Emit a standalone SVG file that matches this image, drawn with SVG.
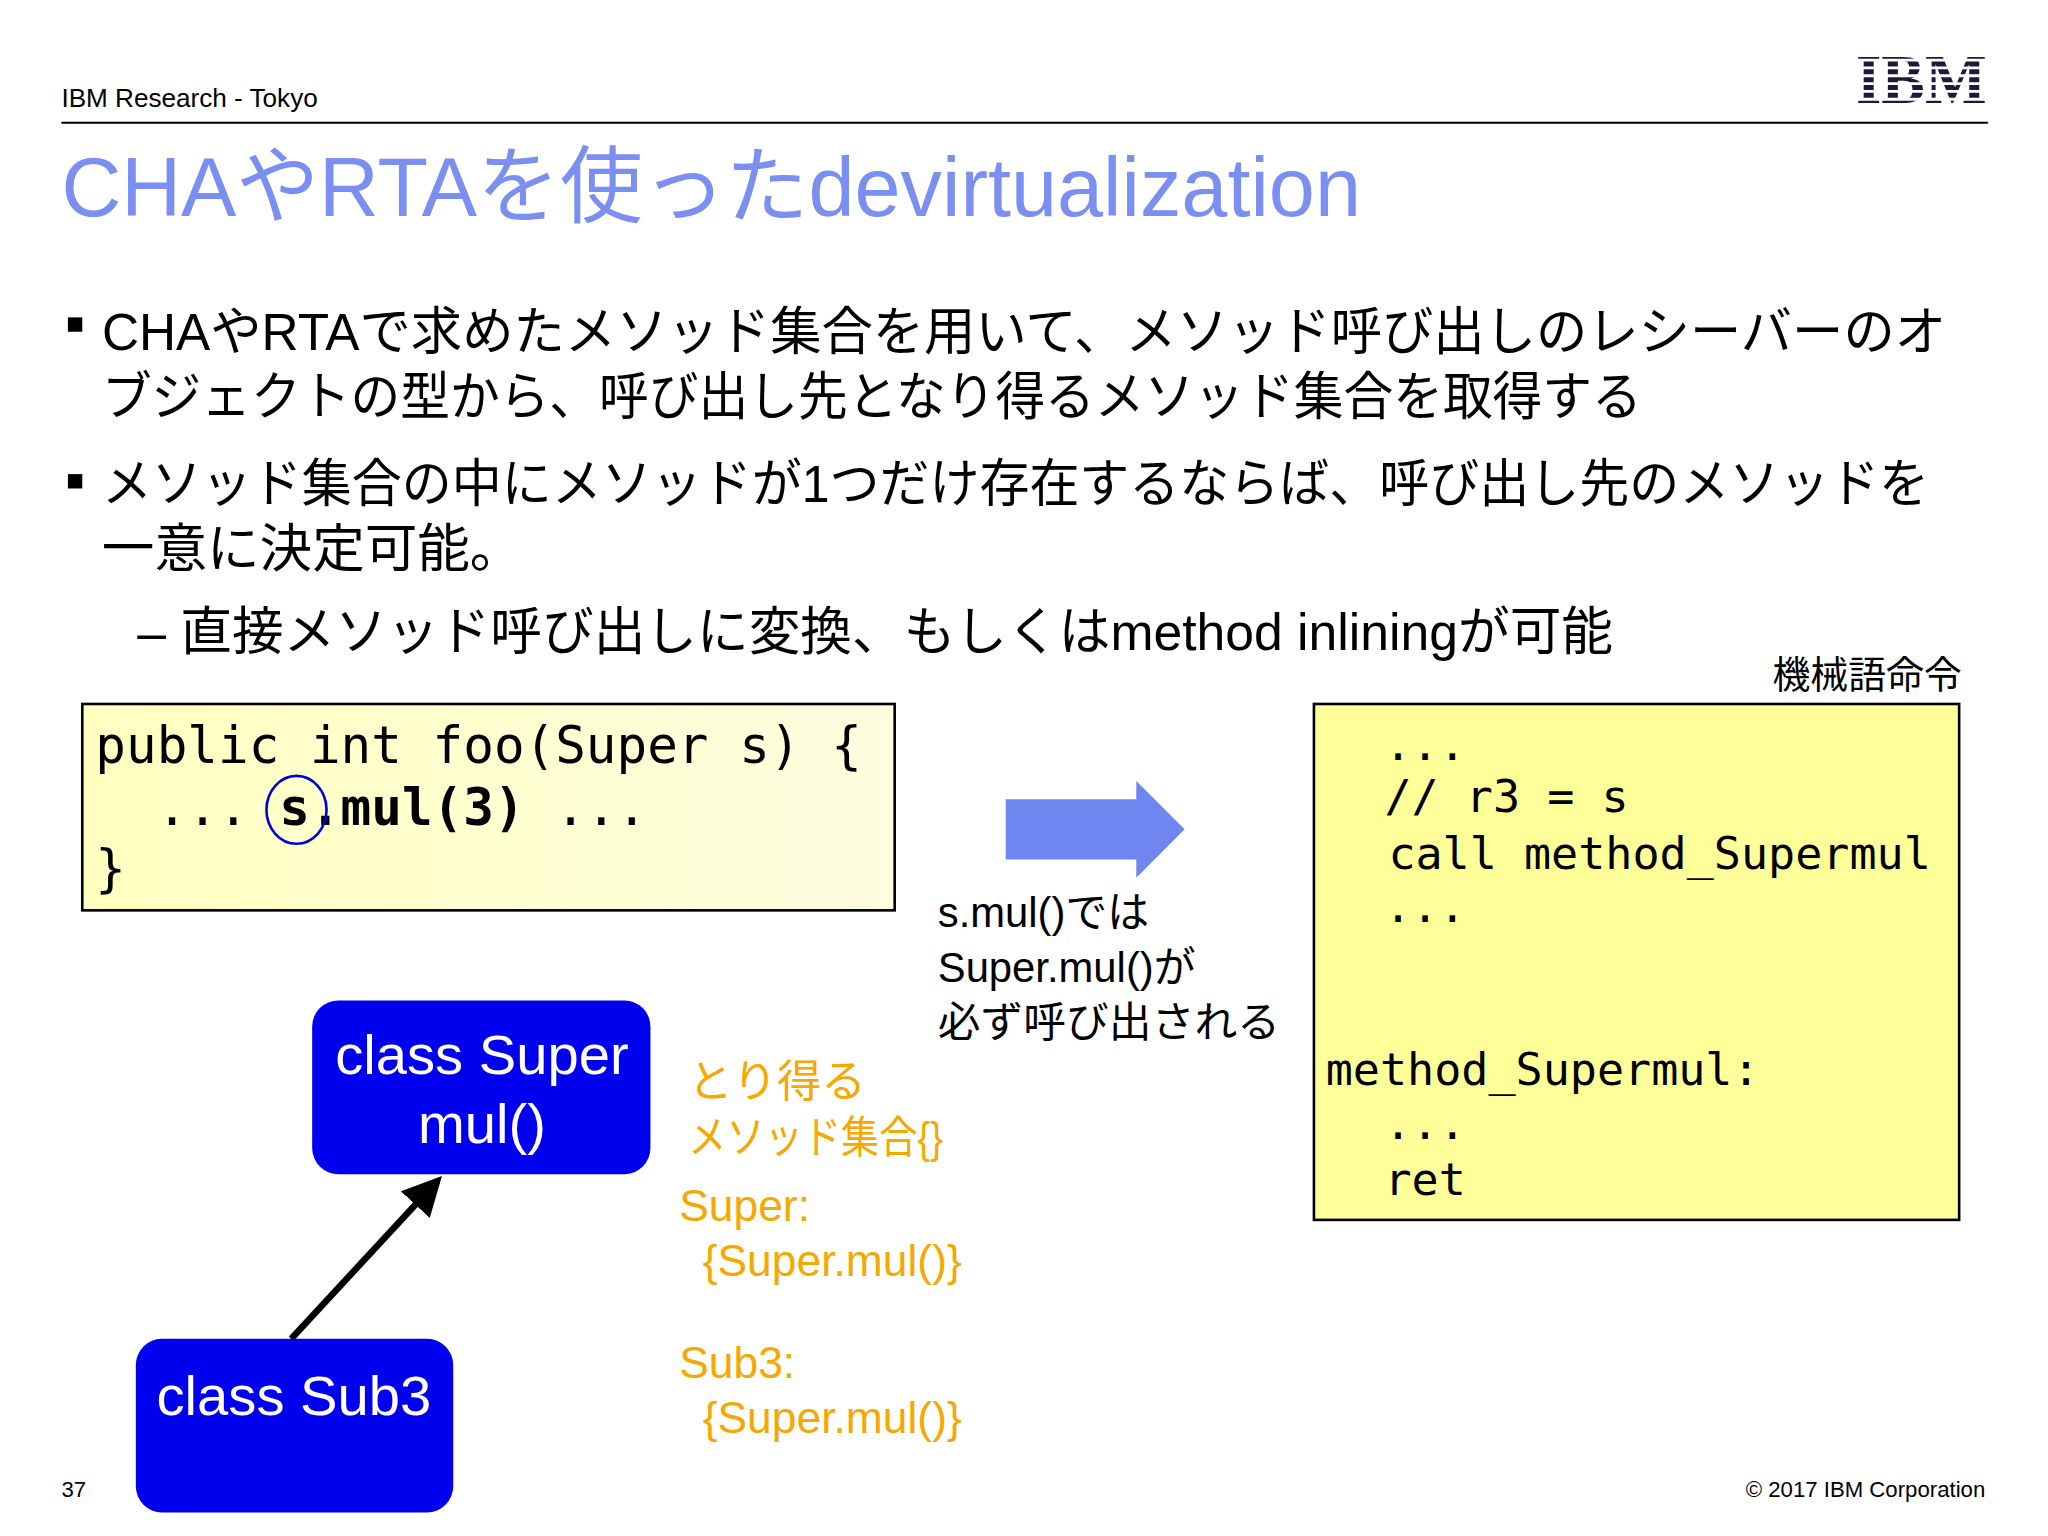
<svg xmlns="http://www.w3.org/2000/svg" width="2048" height="1536" viewBox="0 0 2048 1536">
<style>
.s{font-family:"Liberation Sans","Noto Sans CJK JP",sans-serif}
.m{font-family:"DejaVu Sans Mono","Noto Sans CJK JP",monospace}
.b{font-size:40px;fill:#000}
.o{font-size:34px;fill:#f5a800}
.w{font-size:43px;fill:#fff}
</style>
<defs>
<linearGradient id="gy" x1="0" x2="1"><stop offset="0" stop-color="#ffffc0"/><stop offset="1" stop-color="#fefee0"/></linearGradient>
<marker id="ah" markerWidth="6" markerHeight="6" refX="5" refY="3" orient="auto" markerUnits="strokeWidth"><path d="M0,0 L6,3 L0,6 z" fill="#000"/></marker>
</defs>
<rect width="2048" height="1536" fill="#fff"/>
<g transform="scale(1.3061)">
<text class="s" x="47" y="82" font-size="20">IBM Research - Tokyo</text>
<g id="logo">
<text x="1471" y="79" text-anchor="middle" font-family="Liberation Serif,serif" font-weight="bold" font-size="54" fill="#1a1a3a" textLength="100" lengthAdjust="spacingAndGlyphs">IBM</text>
<g stroke="#fff" stroke-width="2.2"><line x1="1415" x2="1525" y1="46"  y2="46"/><line x1="1415" x2="1525" y1="52" y2="52"/><line x1="1415" x2="1525" y1="58" y2="58"/><line x1="1415" x2="1525" y1="64" y2="64"/><line x1="1415" x2="1525" y1="70" y2="70"/><line x1="1415" x2="1525" y1="76" y2="76"/></g>
</g>
<line x1="47" y1="94" x2="1522" y2="94" stroke="#000" stroke-width="1.5"/>
<text class="s" x="47" y="165" font-size="64" fill="#7b8ef2" textLength="995" lengthAdjust="spacingAndGlyphs">CHAやRTAを使ったdevirtualization</text>
<g class="s b">
<rect x="52" y="243" width="11" height="11"/>
<text x="78" y="268" textLength="1412" lengthAdjust="spacingAndGlyphs">CHAやRTAで求めたメソッド集合を用いて、メソッド呼び出しのレシーバーのオ</text>
<text x="78" y="318" textLength="1179" lengthAdjust="spacingAndGlyphs">ブジェクトの型から、呼び出し先となり得るメソッド集合を取得する</text>
<rect x="52" y="363" width="11" height="11"/>
<text x="78" y="384" textLength="1399" lengthAdjust="spacingAndGlyphs">メソッド集合の中にメソッドが1つだけ存在するならば、呼び出し先のメソッドを</text>
<text x="78" y="434" textLength="322" lengthAdjust="spacingAndGlyphs">一意に決定可能。</text>
<text x="105" y="498" textLength="1130" lengthAdjust="spacingAndGlyphs">– 直接メソッド呼び出しに変換、もしくはmethod inliningが可能</text>
</g>
<text class="s" x="1502" y="527" font-size="29" text-anchor="end">機械語命令</text>
<g id="code1">
<rect x="63" y="539" width="622" height="158" fill="url(#gy)" stroke="#000" stroke-width="2"/>
<text class="m" x="73" y="584" font-size="39">public int foo(Super s) {</text>
<text class="m" x="73" y="632" font-size="39" xml:space="preserve">  ... <tspan font-weight="bold">s.mul(3)</tspan> ...</text>
<text class="m" x="73" y="678" font-size="39">}</text>
<ellipse cx="227" cy="620" rx="23" ry="26" fill="none" stroke="#0000dd" stroke-width="2"/>
</g>
<g id="bigarrow"><path d="M770,612 H870 V598 L907,635 L870,672 V658 H770 Z" fill="#6f86f0"/></g>
<g class="s" font-size="32">
<text x="718" y="710">s.mul()では</text>
<text x="718" y="752">Super.mul()が</text>
<text x="718" y="794" textLength="262" lengthAdjust="spacingAndGlyphs">必ず呼び出される</text>
</g>
<g id="code2">
<rect x="1006" y="539" width="494" height="395" fill="#ffff99" stroke="#000" stroke-width="2"/>
<g class="m" font-size="34.5">
<text x="1060" y="582">...</text>
<text x="1060" y="622">// r3 = s</text>
<text x="1063" y="665">call method_Supermul</text>
<text x="1060" y="706">...</text>
<text x="1015" y="831">method_Supermul:</text>
<text x="1060" y="872">...</text>
<text x="1060" y="915">ret</text>
</g>
</g>
<g id="connectors"><line x1="223" y1="1025" x2="335" y2="904" stroke="#000" stroke-width="5" marker-end="url(#ah)"/></g>
<g id="super">
<rect x="239" y="766" width="259" height="133" rx="20" fill="#0000ee"/>
<text class="s w" x="369" y="822" text-anchor="middle">class Super</text>
<text class="s w" x="369" y="875" text-anchor="middle">mul()</text>
</g>
<g id="sub3">
<rect x="104" y="1025" width="243" height="133" rx="20" fill="#0000ee"/>
<text class="s w" x="225" y="1083" text-anchor="middle">class Sub3</text>
</g>
<g class="s o">
<text x="527" y="840">とり得る</text>
<text x="527" y="883" textLength="195" lengthAdjust="spacingAndGlyphs">メソッド集合{}</text>
<text x="520" y="935">Super:</text>
<text x="538" y="977">{Super.mul()}</text>
<text x="520" y="1055">Sub3:</text>
<text x="538" y="1097">{Super.mul()}</text>
</g>
<text class="s" x="47" y="1146" font-size="17">37</text>
<text class="s" x="1520" y="1146" font-size="17" text-anchor="end">© 2017 IBM Corporation</text>
</g>
</svg>
